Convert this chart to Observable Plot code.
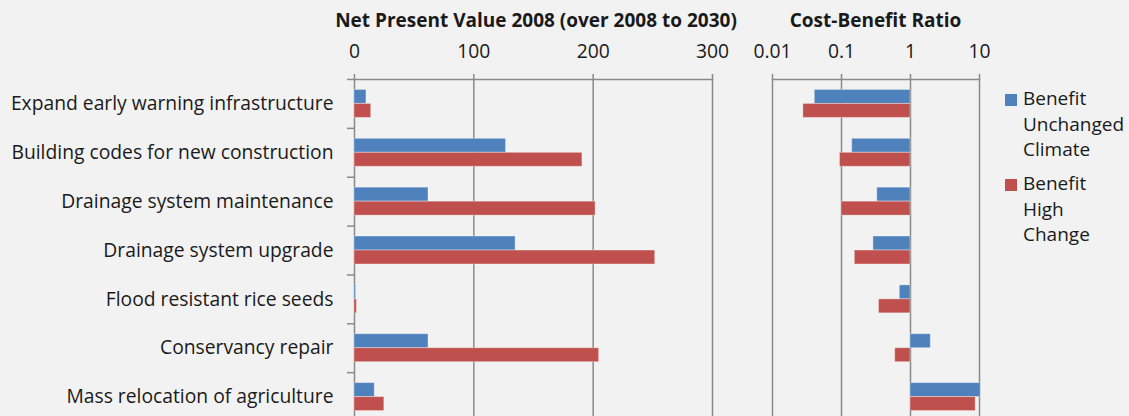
<!DOCTYPE html>
<html>
<head>
<meta charset="utf-8">
<script src="https://cdn.jsdelivr.net/npm/d3@7"></script>
<script src="https://cdn.jsdelivr.net/npm/@observablehq/plot@0.6"></script>
<style>
  html, body { margin: 0; padding: 0; background: #f2f2f2; overflow: hidden; }
  #chart { position: relative; width: 1129px; height: 416px; font-family: "Open Sans", Lato, sans-serif; color: #1a1a1a; }
  #chart svg { position: absolute; top: 0; }
  .title { position: absolute; top: 11px; font-weight: bold; font-size: 19px; line-height: 19px; transform: translateX(-50%); white-space: nowrap; }
  .legend-item { position: absolute; left: 1005px; font-size: 19px; line-height: 25.7px; }
  .legend-item .swatch { position: absolute; left: 0; top: 8px; width: 12px; height: 12px; }
  .legend-item .label { position: absolute; left: 18px; top: 0; white-space: nowrap; }
</style>
</head>
<body>
<div id="chart"></div>
<script>
// Adaptation options, one row per option
const categories = [
  "Expand early warning infrastructure",
  "Building codes for new construction",
  "Drainage system maintenance",
  "Drainage system upgrade",
  "Flood resistant rice seeds",
  "Conservancy repair",
  "Mass relocation of agriculture"
];
const seriesNames = ["Benefit Unchanged Climate", "Benefit High Change"];
const seriesColors = ["#4f81bd", "#c0504d"];

// Net present value 2008 (over 2008 to 2030)
const npvUnchanged = [10, 127, 62, 135, 1.2, 62, 17];
const npvHigh = [14, 191, 202, 252, 2, 205, 25];

// Cost-benefit ratio
const cbrUnchanged = [0.041, 0.143, 0.33, 0.29, 0.70, 1.97, 10.4];
const cbrHigh = [0.028, 0.095, 0.1, 0.156, 0.35, 0.60, 8.8];

const npvTicks = [0, 100, 200, 300];
const cbrTicks = [0.01, 0.1, 1, 10];

const rows = categories.flatMap((category, i) => [
  {category, series: seriesNames[0], npv: npvUnchanged[i], cbr: cbrUnchanged[i]},
  {category, series: seriesNames[1], npv: npvHigh[i], cbr: cbrHigh[i]}
]);
const unchanged = rows.filter(d => d.series === seriesNames[0]);
const high = rows.filter(d => d.series === seriesNames[1]);

// Geometry of the category bands
const ROW = 48.9;       // band height
const BAR = 14;         // single bar thickness
const PAD = (ROW - 2 * BAR) / 2;
const TOP = 79;
const HEIGHT = Math.round(TOP + categories.length * ROW);
const GRID = "#8a8a8a";
const FONT = 19.3;
const FAMILY = "'Open Sans', Lato, sans-serif";

function barsFor(field, base) {
  const common = {y: "category", stroke: "#ffffff", strokeOpacity: 0.35, strokeWidth: 1};
  const xs = base == null ? {x: field} : {x1: base, x2: field};
  return [
    Plot.barX(unchanged, {...xs, ...common, fill: seriesColors[0], insetTop: PAD, insetBottom: PAD + BAR}),
    Plot.barX(high, {...xs, ...common, fill: seriesColors[1], insetTop: PAD + BAR, insetBottom: PAD})
  ];
}

function topAxis(ticks, fmt) {
  return [
    Plot.gridX(ticks, {stroke: GRID, strokeOpacity: 1, strokeWidth: 1.5}),
    Plot.ruleY([categories[0]], {dy: -ROW / 2, stroke: GRID, strokeWidth: 1.5}),
    Plot.axisX(ticks, {anchor: "top", tickSize: 6, tickPadding: 16, stroke: GRID, strokeWidth: 1.5,
      tickFormat: fmt, fontSize: FONT, fill: "#1a1a1a", label: null})
  ];
}

const left = Plot.plot({
  width: 730,
  height: HEIGHT,
  marginLeft: 354,
  marginRight: 18,
  marginTop: TOP,
  marginBottom: 0,
  style: {background: "transparent", overflow: "visible", fontFamily: FAMILY},
  x: {domain: [0, 300]},
  y: {domain: categories, padding: 0, round: false, label: null},
  marks: [
    ...topAxis(npvTicks, d => String(d)),
    ...barsFor("npv", null),
    Plot.axisY({tickSize: 0, tickPadding: 21, fontSize: FONT, fill: "#1a1a1a", label: null}),
    Plot.axisY(categories, {tickSize: 7, tickFormat: () => "", dy: ROW / 2, stroke: GRID, strokeWidth: 1.5, label: null}),
    Plot.axisY([categories[0]], {tickSize: 7, tickFormat: () => "", dy: -ROW / 2, stroke: GRID, strokeWidth: 1.5, label: null})
  ]
});
left.style.left = "0px";

const right = Plot.plot({
  width: 269,
  height: HEIGHT,
  marginLeft: 32,
  marginRight: 30,
  marginTop: TOP,
  marginBottom: 0,
  style: {background: "transparent", overflow: "visible", fontFamily: FAMILY},
  x: {type: "log", domain: [0.01, 10]},
  y: {domain: categories, padding: 0, round: false, label: null, axis: null},
  marks: [
    ...topAxis(cbrTicks, d => String(d)),
    ...barsFor("cbr", 1)
  ]
});
right.style.left = "740px";

const chart = document.getElementById("chart");
chart.append(left, right);

// Panel titles, centred over each panel
function title(text, cx) {
  const div = document.createElement("div");
  div.className = "title";
  div.textContent = text;
  div.style.left = cx + "px";
  chart.append(div);
}
title("Net Present Value 2008 (over 2008 to 2030)", 536);
title("Cost-Benefit Ratio", 875.5);

// Legend
const legendTops = [86, 171];
const legendLines = [["Benefit", "Unchanged", "Climate"], ["Benefit", "High", "Change"]];
legendLines.forEach((lines, i) => {
  const item = document.createElement("div");
  item.className = "legend-item";
  item.style.top = legendTops[i] + "px";
  const sw = document.createElement("div");
  sw.className = "swatch";
  sw.style.background = seriesColors[i];
  const lab = document.createElement("div");
  lab.className = "label";
  lab.innerHTML = lines.join("<br>");
  item.append(sw, lab);
  chart.append(item);
});
</script>
</body>
</html>
